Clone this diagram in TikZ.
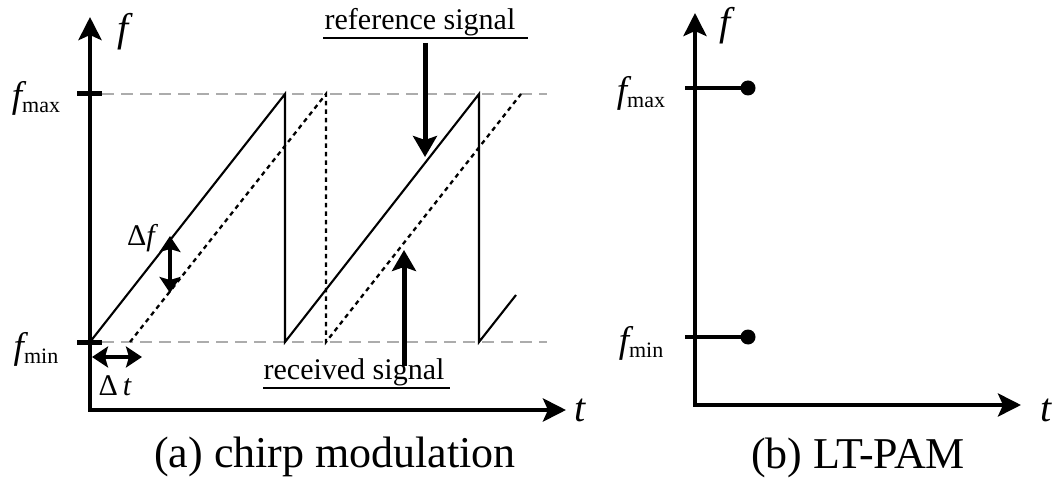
\documentclass[tikz,border=0pt]{standalone}
\usepackage{fontspec}
\setmainfont{Liberation Serif}
\usetikzlibrary{arrows.meta}
\begin{document}
\begin{tikzpicture}[x=1pt,y=-1pt,
  axisline/.style={line width=4.8pt,line join=miter,{Stealth[length=23pt,width=23pt,inset=5pt]}-{Stealth[length=23pt,width=23pt,inset=5pt]}},
  tickline/.style={line width=5pt},
  guide/.style={line width=1.5pt,gray!65,dash pattern=on 12pt off 7pt},
  refsig/.style={line width=2.1pt,line join=miter},
  recsig/.style={line width=2.3pt,dash pattern=on 4.5pt off 4pt},
  callout/.style={line width=5pt,-{Stealth[length=21pt,width=24pt,inset=4pt]}},
  dbl/.style={line width=4pt,{Stealth[length=16pt,width=21pt,inset=3pt]}-{Stealth[length=16pt,width=21pt,inset=3pt]}},
  ulabel/.style={font=\fontsize{30}{34}\selectfont,inner sep=0pt},
  captext/.style={font=\fontsize{44}{48}\selectfont,inner sep=0pt},
  axlabel/.style={font=\fontsize{40}{44}\selectfont\itshape,inner sep=0pt},
  flabel/.style={inner sep=0pt},
  dlabel/.style={font=\fontsize{30}{34}\selectfont,inner sep=0pt},
  dotb/.style={fill=black,draw=none}
]
\useasboundingbox (0,0) rectangle (1054,486);
\newcommand{\fsub}[1]{{\fontsize{37}{40}\selectfont\itshape f}\raisebox{-5pt}{\fontsize{22}{24}\selectfont #1}}

% ---------- panel (a) ----------
\coordinate (aTop) at (90,17);
\coordinate (aO) at (90,410);
\coordinate (aRight) at (566,410);
\draw[axisline] (aTop) -- (aO) -- (aRight);

\coordinate (tmaxL) at (77,94);  \coordinate (tmaxR) at (102,94);
\coordinate (tminL) at (77,342); \coordinate (tminR) at (102,342);
\draw[tickline] (tmaxL) -- (tmaxR);
\draw[tickline] (tminL) -- (tminR);

\coordinate (gmaxA) at (102,94);  \coordinate (gmaxB) at (547,94);
\coordinate (gminA) at (102,342); \coordinate (gminB) at (547,342);
\draw[guide] (gmaxA) -- (gmaxB);
\draw[guide] (gminA) -- (gminB);

% reference signal
\coordinate (r0) at (90,342);
\coordinate (r1) at (285,94);
\coordinate (r2) at (285,342);
\coordinate (r3) at (479,94);
\coordinate (r4) at (479,342);
\coordinate (r5) at (516,295);
\draw[refsig] (r0) -- (r1) -- (r2) -- (r3) -- (r4) -- (r5);

% received signal
\coordinate (d0) at (130,342);
\coordinate (d1) at (326,94);
\coordinate (d2) at (326,342);
\coordinate (d3) at (521,94);
\draw[recsig] (d0) -- (d1) -- (d2) -- (d3);

% labels
\node[axlabel] (fa) at (123,32) {f};
\node[axlabel] (ta) at (580,410) {t};
\node[flabel] (fmaxa) at (36,98) {\fsub{max}};
\node[flabel] (fmina) at (36,349) {\fsub{min}};

% delta f
\coordinate (dfT) at (170,236);
\coordinate (dfB) at (170,293);
\draw[dbl] (dfT) -- (dfB);
\node[dlabel] (dfl) at (141,238) {Δ{\itshape f}};

% delta t
\coordinate (dtL) at (92,357);
\coordinate (dtR) at (142,357);
\draw[dbl] (dtL) -- (dtR);
\node[dlabel] (dtl) at (115,386) {Δ\,{\itshape t}};

% reference signal callout
\node[ulabel] (reftxt) at (420,22) {reference signal};
\coordinate (refU1) at (323,38); \coordinate (refU2) at (528,38);
\draw[line width=1.7pt] (refU1) -- (refU2);
\coordinate (refA) at (425,43); \coordinate (refB) at (425,157);
\draw[callout] (refA) -- (refB);

% received signal callout
\node[ulabel] (rectxt) at (354,372) {received signal};
\coordinate (recU1) at (263,388); \coordinate (recU2) at (450,388);
\draw[line width=1.7pt] (recU1) -- (recU2);
\coordinate (recA) at (404,366); \coordinate (recB) at (404,250);
\draw[callout] (recA) -- (recB);

\node[captext] (capa) at (335,457) {(a) chirp modulation};

% ---------- panel (b) ----------
\coordinate (bTop) at (695,13);
\coordinate (bO) at (695,405);
\coordinate (bRight) at (1021,405);
\draw[axisline,line width=4.2pt] (bTop) -- (bO) -- (bRight);

\coordinate (smaxA) at (685,88); \coordinate (smaxB) at (748,88);
\coordinate (sminA) at (685,337); \coordinate (sminB) at (748,337);
\draw[line width=3.8pt] (smaxA) -- (smaxB);
\draw[line width=3.8pt] (sminA) -- (sminB);
\fill[dotb] (smaxB) circle (7.5);
\fill[dotb] (sminB) circle (7.5);

\node[axlabel] (fb) at (725,26) {f};
\node[axlabel] (tb) at (1046,410) {t};
\node[flabel] (fmaxb) at (641,93) {\fsub{max}};
\node[flabel] (fminb) at (641,343) {\fsub{min}};

\node[captext] (capb) at (858,458) {(b) LT-PAM};
\end{tikzpicture}
\end{document}
